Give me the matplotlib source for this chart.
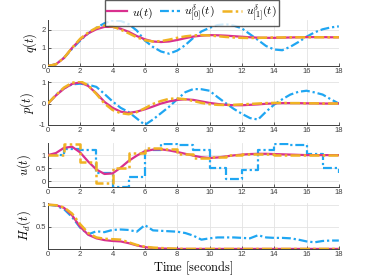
import numpy as np
import matplotlib
matplotlib.use("Agg")
import matplotlib.pyplot as plt

plt.rcParams["font.family"] = ["Liberation Sans", "DejaVu Sans"]
plt.rcParams["mathtext.fontset"] = "cm"

# sample times (0.5 s grid) for the continuous curves
t = np.arange(0, 18.01, 0.5)
# integer times for the held inputs
tk = np.arange(0, 19)

# q(t)
q_u = [0, 0.1, 0.45, 1.0, 1.45, 1.8, 2.02, 2.15, 2.15, 2.05, 1.88, 1.65, 1.47, 1.35, 1.32,
       1.35, 1.43, 1.53, 1.62, 1.67, 1.7, 1.69, 1.67, 1.64, 1.61, 1.58, 1.56, 1.55, 1.55,
       1.56, 1.57, 1.58, 1.59, 1.59, 1.59, 1.58, 1.58]
q_u0 = [0, 0.1, 0.45, 0.95, 1.4, 1.8, 2.1, 2.35, 2.5, 2.48, 2.3, 1.95, 1.4, 1.05, 0.8,
        0.68, 0.85, 1.15, 1.55, 1.9, 2.1, 2.25, 2.3, 2.22, 2.07, 1.75, 1.43, 1.1, 0.91,
        0.87, 1.06, 1.32, 1.61, 1.85, 2.02, 2.12, 2.18]
q_u1 = [0, 0.1, 0.45, 1.0, 1.5, 1.85, 2.1, 2.22, 2.18, 2.0, 1.8, 1.58, 1.42, 1.35, 1.37,
        1.45, 1.55, 1.63, 1.68, 1.7, 1.68, 1.64, 1.6, 1.57, 1.55, 1.54, 1.55, 1.56, 1.57,
        1.57, 1.58, 1.58, 1.58, 1.58, 1.58, 1.58, 1.58]

# p(t)
p_u = [0, 0.38, 0.7, 0.92, 0.99, 0.82, 0.48, 0.08, -0.2, -0.38, -0.44, -0.38, -0.27, -0.14,
       0.0, 0.1, 0.17, 0.2, 0.17, 0.1, 0.03, -0.02, -0.06, -0.08, -0.08, -0.06, -0.04, -0.01,
       0.01, 0.02, 0.02, 0.02, 0.01, 0.01, 0.0, 0.0, 0.0]
p_u0 = [0, 0.4, 0.72, 0.9, 0.93, 0.88, 0.78, 0.45, 0.1, -0.2, -0.4, -0.7, -1.0, -0.75,
        -0.45, -0.15, 0.2, 0.53, 0.68, 0.67, 0.6, 0.3, 0.02, -0.25, -0.48, -0.68, -0.75,
        -0.38, -0.05, 0.2, 0.42, 0.55, 0.6, 0.52, 0.42, 0.2, 0.0]
p_u1 = [0, 0.4, 0.75, 0.97, 1.05, 0.85, 0.45, 0.0, -0.3, -0.45, -0.5, -0.4, -0.22, -0.02,
        0.12, 0.22, 0.24, 0.2, 0.12, 0.03, -0.03, -0.06, -0.07, -0.06, -0.04, -0.02, 0.0,
        0.02, 0.03, 0.03, 0.02, 0.02, 0.01, 0.01, 0.0, 0.0, 0.0]

# u(t)
u_u = [1.0, 1.08, 1.28, 1.32, 1.1, 0.75, 0.45, 0.28, 0.3, 0.52, 0.78, 0.98, 1.15, 1.21,
       1.22, 1.18, 1.12, 1.05, 0.98, 0.92, 0.89, 0.91, 0.95, 0.99, 1.02, 1.04, 1.05, 1.05,
       1.04, 1.03, 1.02, 1.01, 1.0, 1.0, 1.0, 1.0, 1.0]
u_u0 = [1.0, 1.22, 1.19, 0.33, -0.2, 0.15, 1.19, 1.44, 1.38, 1.19, 0.5, 0.08, 0.43, 1.19,
        1.44, 1.38, 1.04, 0.5, 0.3]
u_u1 = [1.0, 1.44, 0.75, -0.05, 0.5, 1.1, 1.28, 1.22, 1.03, 0.88, 0.93, 1.0, 1.05, 1.05,
        1.02, 1.0, 1.0, 1.0, 1.0]

# H_d(t)
h_u = [1.0, 0.99, 0.93, 0.76, 0.5, 0.32, 0.24, 0.2, 0.18, 0.17, 0.13, 0.08, 0.04, 0.02,
       0.01, 0.005, 0, 0, 0, 0, 0, 0, 0, 0, 0, 0, 0, 0, 0, 0, 0, 0, 0, 0, 0, 0, 0]
h_u0 = [1.0, 0.98, 0.9, 0.72, 0.48, 0.33, 0.4, 0.38, 0.43, 0.44, 0.43, 0.39, 0.54, 0.42,
        0.41, 0.4, 0.39, 0.36, 0.3, 0.21, 0.24, 0.26, 0.26, 0.26, 0.25, 0.24, 0.31, 0.26,
        0.25, 0.25, 0.24, 0.21, 0.17, 0.15, 0.18, 0.19, 0.19]
h_u1 = [1.0, 0.99, 0.94, 0.8, 0.56, 0.36, 0.26, 0.23, 0.22, 0.21, 0.15, 0.09, 0.05, 0.03,
        0.02, 0.01, 0.005, 0, 0, 0, 0, 0, 0, 0, 0, 0, 0, 0, 0, 0, 0, 0, 0, 0, 0, 0, 0]

c_mag = "#d9308e"
c_blue = "#1fa6f2"
c_orng = "#f0b323"
dashdot = (0, (4, 1.3, 1, 1.3))

fig = plt.figure(figsize=(3.74, 2.8), dpi=100)

panels = [
    (0.764, 0.164, q_u, q_u0, q_u1, r"$q(t)$", (0, 2.52), [0, 1, 2], ["0", "1", "2"], False),
    (0.554, 0.157, p_u, p_u0, p_u1, r"$p(t)$", (-1.0, 1.06), [-1, 0, 1], ["-1", "0", "1"], False),
    (0.332, 0.157, u_u, u_u0, u_u1, r"$u(t)$", (-0.22, 1.46), [0, 0.5, 1], ["0", "0.5", "1"], True),
    (0.111, 0.164, h_u, h_u0, h_u1, r"$H_d(t)$", (0.0, 1.04), [0.5, 1], ["0.5", "1"], False),
]

for bottom, height, y_u, y_u0, y_u1, lab, ylim, yt, ytl, held in panels:
    ax = fig.add_axes([0.128, bottom, 0.778, height])
    ds = "steps-post" if held else "default"
    xx = tk if held else t
    ax.plot(t, y_u, color=c_mag, lw=1.6, label=r"$u(t)$", zorder=3)
    ax.plot(xx, y_u0, color=c_blue, lw=1.6, ls=dashdot, drawstyle=ds,
            label=r"$u^{\delta}_{[0]}(t)$", zorder=2)
    ax.plot(xx, y_u1, color=c_orng, lw=1.8, ls=dashdot, drawstyle=ds,
            label=r"$u^{\delta}_{[1]}(t)$", zorder=4)
    ax.set_xlim(0, 18)
    ax.set_ylim(*ylim)
    ax.set_xticks(range(0, 19, 2))
    ax.set_yticks(yt)
    ax.set_yticklabels(ytl)
    ax.grid(True, color="#e3e3e3", lw=0.6)
    ax.set_axisbelow(True)
    for s in ["top", "right"]:
        ax.spines[s].set_visible(False)
    for s in ["left", "bottom"]:
        ax.spines[s].set_color("#404040")
        ax.spines[s].set_linewidth(0.7)
    ax.tick_params(direction="in", length=2, width=0.6, labelsize=5.5,
                   colors="#404040", pad=1.5)
    ax.set_ylabel(lab, fontsize=9, labelpad=2)
    if lab == r"$H_d(t)$":
        ax.set_xlabel(r"$\mathrm{Time\ [seconds]}$", fontsize=9, labelpad=1)
    if lab == r"$q(t)$":
        handles, labels = ax.get_legend_handles_labels()

fig.legend(handles, labels, loc="upper center", bbox_to_anchor=(0.513, 1.005), ncol=3,
           fontsize=8.5, frameon=True, fancybox=False, edgecolor="#333333",
           handlelength=1.7, handletextpad=0.35, columnspacing=0.6, borderpad=0.2,
           borderaxespad=0.1)

fig.savefig("out.png", dpi=100)
